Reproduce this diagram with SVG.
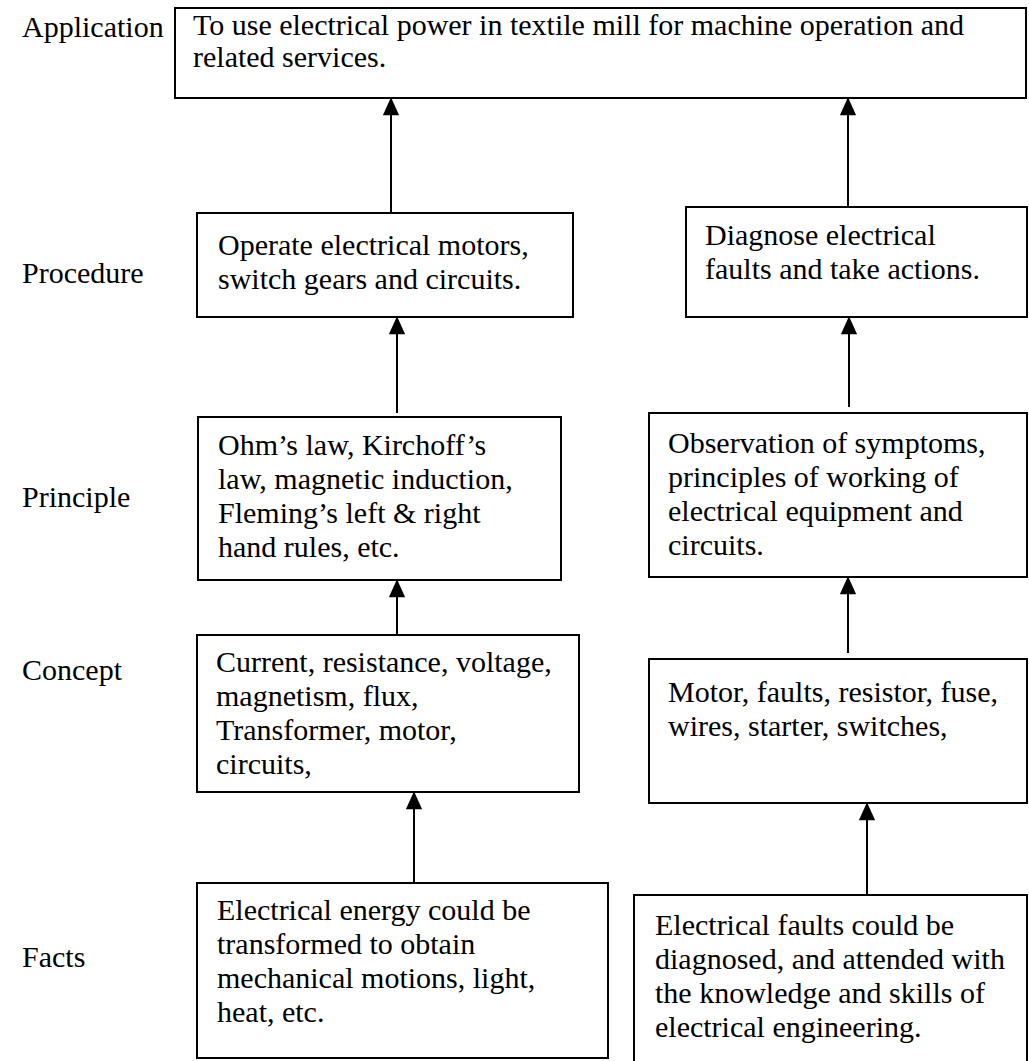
<svg xmlns="http://www.w3.org/2000/svg" width="1029" height="1061" viewBox="0 0 1029 1061">
  <style>
    text { font-family: 'Liberation Serif', 'Times New Roman', serif; font-size: 30px; fill: #000; }
    .box { fill: #fff; stroke: #000; stroke-width: 2; }
    .link { stroke: #000; stroke-width: 2; fill: none; marker-end: url(#head); }
  </style>
  <defs>
    <marker id="head" viewBox="0 0 18 20" refX="18" refY="9" markerWidth="20" markerHeight="18" markerUnits="userSpaceOnUse" orient="auto">
      <path d="M0,0 L20,9 L0,18 Z" fill="#000"/>
    </marker>
  </defs>
  <rect width="1029" height="1061" fill="#fff"/>

  <!-- level labels -->
  <g id="levels">
    <text x="22" y="37">Application</text>
    <text x="22" y="283">Procedure</text>
    <text x="22" y="507">Principle</text>
    <text x="22" y="680">Concept</text>
    <text x="22" y="967">Facts</text>
  </g>

  <!-- connectors -->
  <g id="connectors">
    <line class="link" x1="391" y1="213" x2="391" y2="99"/>
    <line class="link" x1="848" y1="207" x2="848" y2="99"/>
    <line class="link" x1="397" y1="413" x2="397" y2="318"/>
    <line class="link" x1="849" y1="407" x2="849" y2="318"/>
    <line class="link" x1="397" y1="635" x2="397" y2="581"/>
    <line class="link" x1="848" y1="653" x2="848" y2="578"/>
    <line class="link" x1="414" y1="883" x2="414" y2="793"/>
    <line class="link" x1="867" y1="895" x2="867" y2="804"/>
  </g>

  <g id="application">
    <rect class="box" x="175" y="8" width="851" height="90"/>
    <text x="193" y="35">To use electrical power in textile mill for machine operation and</text>
    <text x="193" y="67">related services.</text>
  </g>

  <g id="procedure-left">
    <rect class="box" x="197" y="213" width="376" height="104"/>
    <text x="218" y="255">Operate electrical motors,</text>
    <text x="218" y="289">switch gears and circuits.</text>
  </g>

  <g id="procedure-right">
    <rect class="box" x="686" y="207" width="341" height="110"/>
    <text x="705" y="245">Diagnose electrical</text>
    <text x="705" y="279">faults and take actions.</text>
  </g>

  <g id="principle-left">
    <rect class="box" x="198" y="417" width="363" height="163"/>
    <text x="218" y="455">Ohm’s law, Kirchoff’s</text>
    <text x="218" y="489">law, magnetic induction,</text>
    <text x="218" y="523">Fleming’s left &amp; right</text>
    <text x="218" y="557">hand rules, etc.</text>
  </g>

  <g id="principle-right">
    <rect class="box" x="649" y="413" width="378" height="164"/>
    <text x="668" y="453">Observation of symptoms,</text>
    <text x="668" y="487">principles of working of</text>
    <text x="668" y="521">electrical equipment and</text>
    <text x="668" y="555">circuits.</text>
  </g>

  <g id="concept-left">
    <rect class="box" x="197" y="635" width="382" height="157"/>
    <text x="216" y="672">Current, resistance, voltage,</text>
    <text x="216" y="706">magnetism, flux,</text>
    <text x="216" y="740">Transformer, motor,</text>
    <text x="216" y="774">circuits,</text>
  </g>

  <g id="concept-right">
    <rect class="box" x="649" y="659" width="378" height="144"/>
    <text x="668" y="702">Motor, faults, resistor, fuse,</text>
    <text x="668" y="736">wires, starter, switches,</text>
  </g>

  <g id="facts-left">
    <rect class="box" x="197" y="883" width="411" height="175"/>
    <text x="217" y="920">Electrical energy could be</text>
    <text x="217" y="954">transformed to obtain</text>
    <text x="217" y="988">mechanical motions, light,</text>
    <text x="217" y="1022">heat, etc.</text>
  </g>

  <g id="facts-right">
    <rect class="box" x="634" y="895" width="393" height="180"/>
    <text x="655" y="935">Electrical faults could be</text>
    <text x="655" y="969">diagnosed, and attended with</text>
    <text x="655" y="1003">the knowledge and skills of</text>
    <text x="655" y="1037">electrical engineering.</text>
  </g>
</svg>
